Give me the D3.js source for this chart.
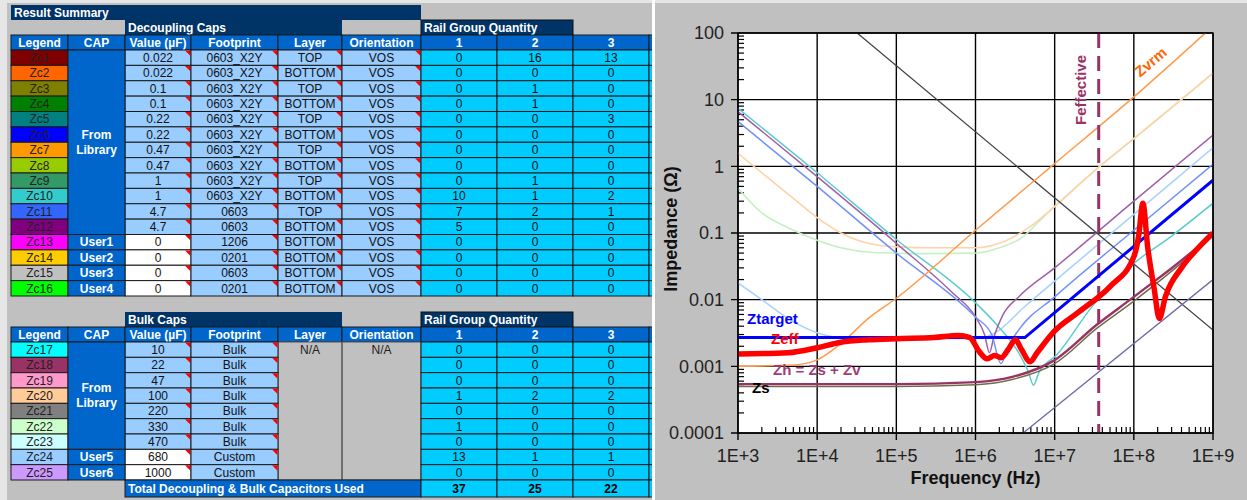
<!DOCTYPE html>
<html>
<head>
<meta charset="utf-8">
<script src="https://cdn.jsdelivr.net/npm/d3@7/dist/d3.min.js"></script>
<style>
body { margin: 0; background: #c0c0c0; }
svg { display: block; font-family: "Liberation Sans", Arial, sans-serif; }
</style>
</head>
<body>
<svg id="sheet" width="1247" height="500"></svg>
<script>
// ---------- table data: decoupling caps
const decLegend = ['Zc1','Zc2','Zc3','Zc4','Zc5','Zc6','Zc7','Zc8','Zc9','Zc10','Zc11','Zc12','Zc13','Zc14','Zc15','Zc16'];
const decColors = ['#800000','#ff6600','#808000','#008000','#008080','#0000ff','#ff9900','#99cc00',
                   '#339966','#33cccc','#3366ff','#800080','#ff00ff','#ffcc00','#c0c0c0','#00ff00'];
const decCap = ['From Library','From Library','From Library','From Library','From Library','From Library',
                'From Library','From Library','From Library','From Library','From Library','From Library',
                'User1','User2','User3','User4'];
const decValue = ['0.022','0.022','0.1','0.1','0.22','0.22','0.47','0.47','1','1','4.7','4.7','0','0','0','0'];
const decFootprint = ['0603_X2Y','0603_X2Y','0603_X2Y','0603_X2Y','0603_X2Y','0603_X2Y','0603_X2Y','0603_X2Y',
                      '0603_X2Y','0603_X2Y','0603','0603','1206','0201','0603','0201'];
const decLayer = ['TOP','BOTTOM','TOP','BOTTOM','TOP','BOTTOM','TOP','BOTTOM','TOP','BOTTOM','TOP','BOTTOM',
                  'BOTTOM','BOTTOM','BOTTOM','BOTTOM'];
const decOrient = ['VOS','VOS','VOS','VOS','VOS','VOS','VOS','VOS','VOS','VOS','VOS','VOS','VOS','VOS','VOS','VOS'];
const decRail1 = [0,0,0,0,0,0,0,0,0,10,7,5,0,0,0,0];
const decRail2 = [16,0,1,1,0,0,0,0,1,1,2,0,0,0,0,0];
const decRail3 = [13,0,0,0,3,0,0,0,0,2,1,0,0,0,0,0];

// ---------- table data: bulk caps
const bulkLegend = ['Zc17','Zc18','Zc19','Zc20','Zc21','Zc22','Zc23','Zc24','Zc25'];
const bulkColors = ['#00ffff','#993366','#ff99cc','#ffcc99','#808080','#ccffcc','#ccffff','#99ccff','#cc99ff'];
const bulkCap = ['From Library','From Library','From Library','From Library','From Library','From Library',
                 'From Library','User5','User6'];
const bulkValue = ['10','22','47','100','220','330','470','680','1000'];
const bulkFootprint = ['Bulk','Bulk','Bulk','Bulk','Bulk','Bulk','Bulk','Custom','Custom'];
const bulkRail1 = [0,0,0,1,0,1,0,13,0];
const bulkRail2 = [0,0,0,2,0,0,0,1,0];
const bulkRail3 = [0,0,0,2,0,0,0,1,0];
const railTotals = [37,25,22];

const colHeaders = ['Legend','CAP','Value (\u00b5F)','Footprint','Layer','Orientation','1','2','3',''];

// ---------- chart data (frequency Hz, impedance Ohm)
const freqTicks = [1e3,1e4,1e5,1e6,1e7,1e8,1e9];
const freqLabels = ['1E+3','1E+4','1E+5','1E+6','1E+7','1E+8','1E+9'];
const impTicks = [100,10,1,0.1,0.01,0.001,0.0001];
const impLabels = ['100','10','1','0.1','0.01','0.001','0.0001'];

const zPlane = [[3.2e4,100],[1e9,0.0035]];
const zVrm = [[1e3,0.001],[5e3,0.00105],[1e4,0.00125],[2e4,0.0022],[4.4e4,0.0052],[1e5,0.0105],
              [1e6,0.11],[1e7,1.1],[1e8,11],[8e8,100]];
const zBulk100 = [[1e3,1.57],[2e3,0.8],[5e3,0.33],[1e4,0.17],[2e4,0.1],[4.4e4,0.07],[1e5,0.062],
                  [3e5,0.06],[1e6,0.06],[2e6,0.07],[4.9e6,0.125],[1e7,0.25],[3.7e7,1.0],[1e8,2.6],[1e9,25]];
const zBulk330 = [[1e3,0.47],[2e3,0.2],[4.3e3,0.12],[1e4,0.078],[2e4,0.06],[5e4,0.051],[2e5,0.049],
                  [1e6,0.05],[2e6,0.06],[4e6,0.088],[6e6,0.14],[1e7,0.25],[3.7e7,1.0],[1e8,2.6],[1e9,25]];
const zBulk680 = [[1e3,0.0178],[2e3,0.01],[4.3e3,0.0052],[1e4,0.0032],[2e4,0.0027],[1e5,0.0026],
                  [1e6,0.0026],[1.4e6,0.0028],[2e6,0.0035],[4e6,0.0075],[1e7,0.019],[1e8,0.19],[1e9,1.9]];
const zCer1 = [[1e3,7.4],[1e4,0.8],[1e5,0.08],[1e6,0.009],[2e6,0.0038],[3.5e6,0.0016],[4.7e6,0.0008],
               [5.4e6,0.00052],[6.3e6,0.0008],[1.07e7,0.0015],[3e7,0.008],[1e8,0.035],[3e8,0.09],[1e9,0.28]];
const zCer47b = [[1e3,6.6],[1e4,0.7],[1e5,0.07],[5e5,0.013],[1e6,0.0055],[1.3e6,0.003],[1.5e6,0.0016],
                 [1.7e6,0.0027],[2.2e6,0.0058],[3.5e6,0.011],[1e7,0.03],[1e8,0.3],[1e9,2.95]];
const zCer47t = [[1e3,4.7],[1e4,0.5],[1e5,0.05],[1e6,0.0055],[1.6e6,0.003],[2.1e6,0.0011],[2.6e6,0.002],
                 [3.5e6,0.0035],[1e7,0.011],[1e8,0.11],[1e9,1.07]];
const zSpread = [[4e6,0.0001],[1e9,0.02]];
const zS = [[1e3,0.0005],[1e5,0.0005],[1e6,0.00053],[3e6,0.00064],[1e7,0.0011],[3.4e7,0.0037],
            [1e8,0.0095],[6.2e8,0.055],[1e9,0.09]];
const zH = [[1e3,0.00054],[1e5,0.00054],[1e6,0.00058],[3e6,0.0007],[1e7,0.00124],[3.4e7,0.0042],
            [1e8,0.011],[6.2e8,0.06],[1e9,0.1]];
const zTarget = [[1e3,0.0027],[4.2e6,0.0027],[1e9,0.62]];
const zEff = [[1e3,0.00153],[4.3e3,0.0016],[1e4,0.0019],[2e4,0.0023],[4.4e4,0.0025],[1e5,0.0026],
              [3e5,0.0027],[6e5,0.0029],[8.5e5,0.0027],[1.1e6,0.0017],[1.4e6,0.0013],[1.75e6,0.00145],
              [2.1e6,0.00135],[2.6e6,0.0018],[3.2e6,0.0025],[3.8e6,0.0018],[4.9e6,0.00117],[6e6,0.0016],
              [1e7,0.0034],[2e7,0.0065],[5e7,0.0157],[1e8,0.044],[1.15e8,0.09],[1.3e8,0.28],[1.5e8,0.06],
              [1.8e8,0.015],[2.1e8,0.0052],[2.5e8,0.011],[4e8,0.03],[6.2e8,0.056],[1e9,0.1]];
const fEffective = 3.6e7;

const colX = [11, 68, 125, 191, 278, 342, 421, 497, 573, 649, 725];
const navy = '#003366', hdrBlue = '#0066cc', lightBlue = '#99ccff', cyan = '#00ccff';

const svg = d3.select('#sheet');

// ---------- spreadsheet side
svg.append('rect').attr('x', 0).attr('y', 0).attr('width', 1247).attr('height', 3).attr('fill', '#e6e6e6');
svg.append('rect').attr('x', 0).attr('y', 0).attr('width', 7).attr('height', 500).attr('fill', '#e6e6e6');

svg.append('clipPath').attr('id', 'tableClip')
    .append('rect').attr('x', 0).attr('y', 0).attr('width', 652).attr('height', 500);
const tbl = svg.append('g').attr('clip-path', 'url(#tableClip)');

function cell(x0, x1, y0, h, fill, txt, opt) {
    opt = opt || {};
    tbl.append('rect')
        .attr('x', x0).attr('y', y0)
        .attr('width', x1 - x0).attr('height', h)
        .attr('fill', fill)
        .attr('stroke', opt.stroke === undefined ? '#1a1a1a' : opt.stroke)
        .attr('stroke-width', 1);
    if (opt.note) {
        tbl.append('path')
            .attr('d', 'M' + (x1 - 6) + ',' + (y0 + 0.5) + 'L' + (x1 - 0.5) + ',' + (y0 + 0.5) + 'L' + (x1 - 0.5) + ',' + (y0 + 6) + 'Z')
            .attr('fill', '#ff0000');
    }
    if (txt !== '' && txt !== undefined) {
        tbl.append('text')
            .attr('x', opt.left ? x0 + 3 : (x0 + x1) / 2)
            .attr('y', y0 + h / 2 + 4.3)
            .attr('text-anchor', opt.left ? 'start' : 'middle')
            .attr('font-size', 12)
            .attr('font-weight', opt.bold ? 'bold' : 'normal')
            .attr('fill', opt.color || '#111')
            .text(txt);
    }
}

function capGroups(caps) {
    let groups = [];
    caps.forEach(function(c, i) {
        if (groups.length && groups[groups.length - 1].label === c) groups[groups.length - 1].n++;
        else groups.push({label: c, start: i, n: 1});
    });
    return groups;
}

function sectionHeader(y0, title) {
    cell(colX[2], colX[5], y0, 15, navy, title, {left: true, bold: true, color: '#fff', stroke: 'none'});
    cell(colX[6], colX[8], y0, 15, navy, 'Rail Group Quantity', {left: true, bold: true, color: '#fff', stroke: '#111'});
}

function colHeaderRow(y0) {
    colHeaders.forEach(function(h, i) {
        cell(colX[i], colX[i + 1], y0, 15, hdrBlue, h, {bold: true, color: '#fff', stroke: '#1a1a1a'});
    });
}

function dataRows(y0, rowH, legend, colors, caps, values, footprint, layer, orient, rails) {
    legend.forEach(function(lg, i) {
        let y = y0 + i * rowH;
        let user = caps[i].indexOf('User') === 0;
        cell(colX[0], colX[1], y, rowH, colors[i], lg, {color: '#222'});
        cell(colX[2], colX[3], y, rowH, user ? '#ffffff' : lightBlue, values[i], {note: true});
        cell(colX[3], colX[4], y, rowH, lightBlue, footprint[i], {note: true});
        if (layer) {
            cell(colX[4], colX[5], y, rowH, lightBlue, layer[i], {note: true});
            cell(colX[5], colX[6], y, rowH, lightBlue, orient[i], {note: true});
        }
        rails.forEach(function(r, k) {
            cell(colX[6 + k], colX[7 + k], y, rowH, cyan, String(r[i]));
        });
        cell(colX[9], colX[10], y, rowH, cyan, '');
    });
    capGroups(caps).forEach(function(g) {
        let y = y0 + g.start * rowH, h = g.n * rowH;
        cell(colX[1], colX[2], y, h, hdrBlue, '', {});
        let words = g.label.split(' ');
        words.forEach(function(w, j) {
            tbl.append('text')
                .attr('x', (colX[1] + colX[2]) / 2)
                .attr('y', y + h / 2 + 4.3 + (j - (words.length - 1) / 2) * 15)
                .attr('text-anchor', 'middle')
                .attr('font-size', 12).attr('font-weight', 'bold')
                .attr('fill', '#fff')
                .text(w);
        });
    });
}

// decoupling block
cell(colX[0], colX[6], 5, 15, navy, 'Result Summary', {left: true, bold: true, color: '#fff', stroke: 'none'});
sectionHeader(20, 'Decoupling Caps');
colHeaderRow(35);
dataRows(50, 246 / 16, decLegend, decColors, decCap, decValue, decFootprint, decLayer, decOrient,
         [decRail1, decRail2, decRail3]);

// bulk block
sectionHeader(312, 'Bulk Caps');
colHeaderRow(327);
const bulkRowH = 138 / 9;
tbl.append('rect').attr('x', colX[4]).attr('y', 342).attr('width', colX[6] - colX[4]).attr('height', 138)
    .attr('fill', '#c0c0c0').attr('stroke', '#555').attr('stroke-width', 1);
tbl.append('line').attr('x1', colX[5]).attr('x2', colX[5]).attr('y1', 342).attr('y2', 480)
    .attr('stroke', '#555').attr('stroke-width', 1.5);
tbl.append('text').attr('x', (colX[4] + colX[5]) / 2).attr('y', 342 + bulkRowH / 2 + 4.3)
    .attr('text-anchor', 'middle').attr('font-size', 12).attr('fill', '#222').text('N/A');
tbl.append('text').attr('x', (colX[5] + colX[6]) / 2).attr('y', 342 + bulkRowH / 2 + 4.3)
    .attr('text-anchor', 'middle').attr('font-size', 12).attr('fill', '#222').text('N/A');
dataRows(342, bulkRowH, bulkLegend, bulkColors, bulkCap, bulkValue, bulkFootprint, null, null,
         [bulkRail1, bulkRail2, bulkRail3]);
cell(colX[2], colX[6], 480, 17, hdrBlue, 'Total Decoupling & Bulk Capacitors Used',
     {left: true, bold: true, color: '#fff'});
railTotals.forEach(function(t, k) {
    cell(colX[6 + k], colX[7 + k], 480, 17, cyan, String(t), {bold: true, color: '#000'});
});
cell(colX[9], colX[10], 480, 17, cyan, '');

// separator between the two panels
svg.append('rect').attr('x', 652).attr('y', 0).attr('width', 3).attr('height', 500).attr('fill', '#ffffff');

// ---------- impedance chart
const plot = {left: 738, right: 1213, top: 33, bottom: 433};
const x = d3.scaleLog().domain([1e3, 1e9]).range([plot.left, plot.right]);
const y = d3.scaleLog().domain([1e-4, 100]).range([plot.bottom, plot.top]);

const chart = svg.append('g');
chart.append('rect')
    .attr('x', plot.left).attr('y', plot.top)
    .attr('width', plot.right - plot.left).attr('height', plot.bottom - plot.top)
    .attr('fill', '#ffffff');

// minor ticks (inside)
let minorF = [], minorZ = [];
freqTicks.slice(0, -1).forEach(function(d) { for (let k = 2; k < 10; k++) minorF.push(d * k); });
impTicks.slice(1).forEach(function(d) { for (let k = 2; k < 10; k++) minorZ.push(d * k); });
chart.selectAll('.minorX').data(minorF).enter().append('line')
    .attr('x1', d => x(d)).attr('x2', d => x(d))
    .attr('y1', plot.bottom).attr('y2', plot.bottom - 6)
    .attr('stroke', '#000').attr('stroke-width', 1.2);
chart.selectAll('.minorY').data(minorZ).enter().append('line')
    .attr('x1', plot.left).attr('x2', plot.left + 6)
    .attr('y1', d => y(d)).attr('y2', d => y(d))
    .attr('stroke', '#000').attr('stroke-width', 1.2);

// major grid + outside ticks
chart.selectAll('.gridX').data(freqTicks).enter().append('line')
    .attr('x1', d => x(d)).attr('x2', d => x(d))
    .attr('y1', plot.top).attr('y2', plot.bottom + 7)
    .attr('stroke', '#000').attr('stroke-width', 1.4);
chart.selectAll('.gridY').data(impTicks).enter().append('line')
    .attr('x1', plot.left - 7).attr('x2', plot.right)
    .attr('y1', d => y(d)).attr('y2', d => y(d))
    .attr('stroke', '#000').attr('stroke-width', 1.4);

chart.selectAll('.labX').data(freqTicks).enter().append('text')
    .attr('x', d => x(d)).attr('y', 462)
    .attr('text-anchor', 'middle').attr('font-size', 18).attr('fill', '#222')
    .text((d, i) => freqLabels[i]);
chart.selectAll('.labY').data(impTicks).enter().append('text')
    .attr('x', 724).attr('y', d => y(d)).attr('dy', '0.35em')
    .attr('text-anchor', 'end').attr('font-size', 18).attr('fill', '#222')
    .text((d, i) => impLabels[i]);

chart.append('text')
    .attr('x', (plot.left + plot.right) / 2).attr('y', 484)
    .attr('text-anchor', 'middle').attr('font-size', 18).attr('font-weight', 'bold').attr('fill', '#111')
    .text('Frequency (Hz)');
chart.append('text')
    .attr('transform', 'translate(677,' + ((plot.top + plot.bottom) / 2 - 4) + ') rotate(-90)')
    .attr('text-anchor', 'middle').attr('font-size', 18).attr('font-weight', 'bold').attr('fill', '#111')
    .text('Impedance (\u03a9)');

// curves
svg.append('clipPath').attr('id', 'plotClip')
    .append('rect').attr('x', plot.left).attr('y', plot.top)
    .attr('width', plot.right - plot.left).attr('height', plot.bottom - plot.top);
const curves = chart.append('g').attr('clip-path', 'url(#plotClip)');

const smooth = d3.line().x(d => x(d[0])).y(d => y(d[1])).curve(d3.curveMonotoneX);
const straight = d3.line().x(d => x(d[0])).y(d => y(d[1]));

const series = [
    {data: zBulk330, color: '#c4f0c4', width: 1.6, line: smooth},
    {data: zBulk100, color: '#ffd2a8', width: 1.6, line: smooth},
    {data: zBulk680, color: '#a9d2ff', width: 1.6, line: smooth},
    {data: zCer1, color: '#5ccccc', width: 1.5, line: smooth},
    {data: zCer47b, color: '#a060a8', width: 1.5, line: smooth},
    {data: zCer47t, color: '#7090ff', width: 1.5, line: smooth},
    {data: zPlane, color: '#444444', width: 1.3, line: straight},
    {data: zVrm, color: '#ff9a4a', width: 1.5, line: smooth},
    {data: zSpread, color: '#6a6aa8', width: 1.3, line: straight},
    {data: zS, color: '#6e6e4a', width: 1.5, line: smooth},
    {data: zH, color: '#993366', width: 2.4, line: smooth}
];
series.forEach(function(s) {
    curves.append('path')
        .attr('d', s.line(s.data))
        .attr('fill', 'none')
        .attr('stroke', s.color)
        .attr('stroke-width', s.width);
});

curves.append('line')
    .attr('x1', x(fEffective)).attr('x2', x(fEffective))
    .attr('y1', plot.top).attr('y2', plot.bottom)
    .attr('stroke', '#993366').attr('stroke-width', 3)
    .attr('stroke-dasharray', '15,8');

curves.append('path')
    .attr('d', straight(zTarget))
    .attr('fill', 'none').attr('stroke', '#0000ff').attr('stroke-width', 3);
curves.append('path')
    .attr('d', smooth(zEff))
    .attr('fill', 'none').attr('stroke', '#ff0000').attr('stroke-width', 5.5)
    .attr('stroke-linejoin', 'round');

chart.append('rect')
    .attr('x', plot.left).attr('y', plot.top)
    .attr('width', plot.right - plot.left).attr('height', plot.bottom - plot.top)
    .attr('fill', 'none').attr('stroke', '#000').attr('stroke-width', 1.4);

// curve labels
function label(txt, px, py, color, rot) {
    chart.append('text')
        .attr('transform', 'translate(' + px + ',' + py + ')' + (rot ? ' rotate(' + rot + ')' : ''))
        .attr('text-anchor', rot ? 'middle' : 'start')
        .attr('font-size', 15).attr('font-weight', 'bold')
        .attr('fill', color)
        .text(txt);
}
label('Ztarget', 747, 324, '#0000ff');
label('Zeff', 771, 344, '#ff0000');
label('Zh = Zs + Zv', 773, 375, '#9b3d7a');
label('Zs', 752, 393, '#000000');
label('Feffective', 1086, 90, '#993366', -90);
label('Zvrm', 1154, 66, '#ff6600', -40);
</script>
</body>
</html>
